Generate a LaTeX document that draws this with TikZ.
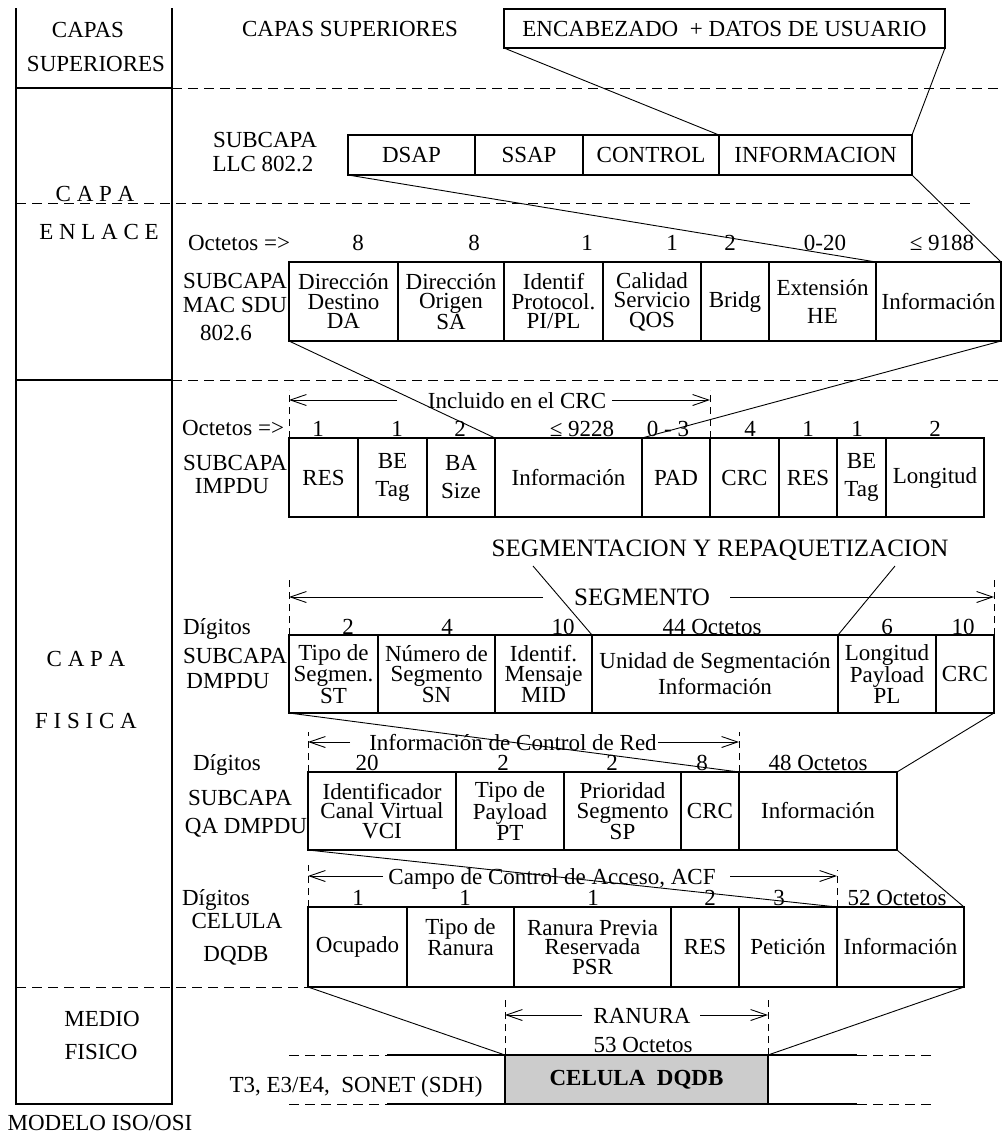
\documentclass[tikz,border=0pt]{standalone}
\usepackage{fontspec}
\setmainfont{Liberation Serif}
\usetikzlibrary{arrows.meta,positioning}

\begin{document}
\begin{tikzpicture}[
  x=1pt, y=-1pt,
  font=\fontsize{23}{28}\selectfont,
  field/.style={
    rectangle,
    draw=black,
    line width=2pt,
    outer sep=0pt,
    inner sep=1pt,
    align=center,
    minimum height=79pt
  },
  tight/.style={font=\fontsize{23}{19.5}\selectfont},
  lbl/.style={anchor=base, inner sep=0pt},
  big/.style={lbl, font=\fontsize{25}{30}\selectfont},
  link/.style={line width=0.9pt},
  guide/.style={line width=0.9pt, dash pattern=on 7pt off 5pt},
  sep/.style={line width=0.9pt, dash pattern=on 10pt off 6pt},
  wall/.style={line width=2.3pt},
  dim/.style={-{Straight Barb[length=16pt,width=11pt]}, line width=0.9pt}
]
\useasboundingbox (0,0) rectangle (1003,1133);

% ISO/OSI column
\draw[wall] (16,8) -- (16,1104) -- (172,1104) -- (172,8);
\draw[wall] (16,88) -- (172,88);
\draw[wall] (16,380) -- (172,380);
\draw[sep] (172,88) -- (1003,88);
\draw[sep] (16,203) -- (975,203);
\draw[sep] (172,380) -- (1003,380);
\node[lbl] (capas) at (88,37) {CAPAS};
\node[lbl] (superiores) at (96,71) {SUPERIORES};
\node[lbl] (capa1) at (95,201) {C A P A};
\node[lbl] (enlace) at (99,239) {E N L A C E};
\node[lbl] (capa2) at (86,666) {C A P A};
\node[lbl] (fisica) at (86,728) {F I S I C A};
\node[lbl] (medio) at (102,1026) {MEDIO};
\node[lbl] (fisico) at (101,1059) {FISICO};
\node[lbl] (modelo) at (100,1130) {MODELO ISO/OSI};

% capas superiores
\node[lbl] (capsup) at (350,36) {CAPAS SUPERIORES};
\node[field, minimum width=441pt, minimum height=39pt, anchor=north west] (encab) at (504,9) {ENCABEZADO\ \ + DATOS DE USUARIO};

% LLC
\node[lbl] (llcsub) at (265,147) {SUBCAPA};
\node[lbl] (llcname) at (263,171) {LLC 802.2};
\node[field, minimum width=127pt, minimum height=40pt, anchor=north west] (llc1) at (348,135) {DSAP};
\node[field, minimum width=108pt, minimum height=40pt, right=0pt of llc1] (llc2) {SSAP};
\node[field, minimum width=136pt, minimum height=40pt, right=0pt of llc2] (llc3) {CONTROL};
\node[field, minimum width=193pt, minimum height=40pt, right=0pt of llc3] (llc4) {INFORMACION};
\draw[link] (encab.south west) -- (llc4.north west);
\draw[link] (encab.south east) -- (llc4.north east);

% MAC
\node[lbl] (macoct) at (239,250) {Octetos =>};
\node[lbl] (macsub) at (235,288) {SUBCAPA};
\node[lbl] (macname) at (235,312) {MAC SDU};
\node[lbl] (macstd) at (226,340) {802.6};
\node[field, tight, minimum width=109pt, anchor=north west] (mac1) at (289,262) {Dirección\\Destino\\DA};
\node[field, tight, minimum width=106pt, right=0pt of mac1] (mac2) {Dirección\\Origen\\SA};
\node[field, tight, minimum width=99pt, right=0pt of mac2] (mac3) {Identif\\Protocol.\\PI/PL};
\node[field, tight, minimum width=98pt, right=0pt of mac3] (mac4) {Calidad\\Servicio\\QOS};
\node[field, minimum width=68pt, right=0pt of mac4] (mac5) {Bridg};
\node[field, minimum width=107pt, right=0pt of mac5] (mac6) {Extensión\\HE};
\node[field, minimum width=125pt, right=0pt of mac6] (mac7) {Información};
\node[lbl] (macn1) at (358,250) {8};
\node[lbl] (macn2) at (474,250) {8};
\node[lbl] (macn3) at (587,250) {1};
\node[lbl] (macn4) at (672,250) {1};
\node[lbl] (macn5) at (730,250) {2};
\node[lbl] (macn6) at (825,250) {0-20};
\node[lbl] (macn7) at (942,250) {≤ 9188};
\draw[link] (llc1.south west) -- (mac7.north west);
\draw[link] (llc4.south east) -- (mac7.north east);

% IMPDU
\node[lbl] (impoct) at (233,435) {Octetos =>};
\node[lbl] (impsub) at (235,470) {SUBCAPA};
\node[lbl] (impname) at (232,493) {IMPDU};
\node[field, minimum width=69pt, anchor=north west] (imp1) at (289,438) {RES};
\node[field, minimum width=69pt, right=0pt of imp1] (imp2) {BE\\Tag};
\node[field, minimum width=68pt, right=0pt of imp2] (imp3) {BA\\Size};
\node[field, minimum width=147pt, right=0pt of imp3] (imp4) {Información};
\node[field, minimum width=68pt, right=0pt of imp4] (imp5) {PAD};
\node[field, minimum width=69pt, right=0pt of imp5] (imp6) {CRC};
\node[field, minimum width=58pt, right=0pt of imp6] (imp7) {RES};
\node[field, minimum width=49pt, right=0pt of imp7] (imp8) {BE\\Tag};
\node[field, minimum width=98pt, right=0pt of imp8] (imp9) {Longitud};
\node[lbl] (impn1) at (318,436) {1};
\node[lbl] (impn2) at (397,436) {1};
\node[lbl] (impn3) at (460,436) {2};
\node[lbl] (impn4) at (582,436) {≤ 9228};
\node[lbl] (impn5) at (668,436) {0 - 3};
\node[lbl] (impn6) at (750,436) {4};
\node[lbl] (impn7) at (808,436) {1};
\node[lbl] (impn8) at (857,436) {1};
\node[lbl] (impn9) at (935,436) {2};
\node[lbl] (incl) at (517,408) {Incluido en el CRC};
\coordinate (inclL) at (397,400);
\coordinate (inclR) at (612,400);
\draw[guide] (imp1.north west) -- ++(0,-48);
\draw[guide] (imp6.north west) -- ++(0,-48);
\draw[dim] (inclL) -- (inclL -| imp1.west);
\draw[dim] (inclR) -- (inclR -| imp6.west);
\draw[link] (mac1.south west) -- (imp4.north west);
\draw[link] (mac7.south east) -- (imp5.north west);

% DMPDU
\node[big] (segrep) at (720,556) {SEGMENTACION Y REPAQUETIZACION};
\coordinate (segrepL) at (533,566);
\coordinate (segrepR) at (895,566);
\node[lbl] (dmdig) at (217,634) {Dígitos};
\node[lbl] (dmsub) at (235,663) {SUBCAPA};
\node[lbl] (dmname) at (228,688) {DMPDU};
\node[field, tight, minimum width=89pt, minimum height=78pt, anchor=north west] (dm1) at (289,635) {Tipo de\\Segmen.\\ST};
\node[field, tight, minimum width=117pt, minimum height=78pt, right=0pt of dm1] (dm2) {Número de\\Segmento\\SN};
\node[field, tight, minimum width=97pt, minimum height=78pt, right=0pt of dm2] (dm3) {Identif.\\Mensaje\\MID};
\node[field, font=\fontsize{23}{26}\selectfont, minimum width=246pt, minimum height=78pt, right=0pt of dm3] (dm4) {Unidad de Segmentación\\Información};
\node[field, tight, minimum width=98pt, minimum height=78pt, right=0pt of dm4] (dm5) {Longitud\\Payload\\PL};
\node[field, minimum width=58pt, minimum height=78pt, right=0pt of dm5] (dm6) {CRC};
\node[lbl] (dmn1) at (348,634) {2};
\node[lbl] (dmn2) at (447,634) {4};
\node[lbl] (dmn3) at (563,634) {10};
\node[lbl] (dmn4) at (712,634) {44 Octetos};
\node[lbl] (dmn5) at (887,634) {6};
\node[lbl] (dmn6) at (963,634) {10};
\node[big] (segto) at (642,605) {SEGMENTO};
\coordinate (segtoL) at (543,597);
\coordinate (segtoR) at (730,597);
\draw[guide] (dm1.north west) -- ++(0,-58);
\draw[guide] (dm6.north east) -- ++(0,-58);
\draw[dim] (segtoL) -- (segtoL -| dm1.west);
\draw[dim] (segtoR) -- (segtoR -| dm6.east);
\draw[link] (segrepL) -- (dm4.north west);
\draw[link] (segrepR) -- (dm5.north west);

% QA DMPDU
\node[lbl] (qadig) at (227,770) {Dígitos};
\node[lbl] (qasub) at (240,805) {SUBCAPA};
\node[lbl] (qaname) at (246,833) {QA DMPDU};
\node[field, tight, minimum width=148pt, minimum height=78pt, anchor=north west] (qa1) at (308,772) {Identificador\\Canal Virtual\\VCI};
\node[field, tight, minimum width=108pt, minimum height=78pt, right=0pt of qa1] (qa2) {Tipo de\\Payload\\PT};
\node[field, tight, minimum width=117pt, minimum height=78pt, right=0pt of qa2] (qa3) {Prioridad\\Segmento\\SP};
\node[field, minimum width=58pt, minimum height=78pt, right=0pt of qa3] (qa4) {CRC};
\node[field, minimum width=158pt, minimum height=78pt, right=0pt of qa4] (qa5) {Información};
\node[lbl] (qan1) at (367,770) {20};
\node[lbl] (qan2) at (503,770) {2};
\node[lbl] (qan3) at (612,770) {2};
\node[lbl] (qan4) at (702,770) {8};
\node[lbl] (qan5) at (818,770) {48 Octetos};
\node[lbl] (icr) at (513,750) {Información de Control de Red};
\coordinate (icrL) at (350,742);
\coordinate (icrR) at (658,742);
\draw[guide] (qa1.north west) -- ++(0,-40);
\draw[guide] (qa5.north west) -- ++(0,-40);
\draw[dim] (icrL) -- (icrL -| qa1.west);
\draw[dim] (icrR) -- (icrR -| qa5.west);
\draw[link] (dm1.south west) -- (qa5.north west);
\draw[link] (dm6.south east) -- (qa5.north east);

% celula DQDB
\node[lbl] (cedig) at (216,905) {Dígitos};
\node[lbl] (cesub) at (237,928) {CELULA};
\node[lbl] (cename) at (236,961) {DQDB};
\node[field, minimum width=99pt, minimum height=80pt, anchor=north west] (ce1) at (308,907) {Ocupado};
\node[field, tight, minimum width=107pt, minimum height=80pt, right=0pt of ce1] (ce2) {Tipo de\\Ranura\\\phantom{PSR}};
\node[field, tight, minimum width=157pt, minimum height=80pt, right=0pt of ce2] (ce3) {Ranura Previa\\Reservada\\PSR};
\node[field, minimum width=68pt, minimum height=80pt, right=0pt of ce3] (ce4) {RES};
\node[field, minimum width=98pt, minimum height=80pt, right=0pt of ce4] (ce5) {Petición};
\node[field, minimum width=127pt, minimum height=80pt, right=0pt of ce5] (ce6) {Información};
\node[lbl] (cen1) at (358,905) {1};
\node[lbl] (cen2) at (465,905) {1};
\node[lbl] (cen3) at (593,905) {1};
\node[lbl] (cen4) at (710,905) {2};
\node[lbl] (cen5) at (779,905) {3};
\node[lbl] (cen6) at (897,905) {52 Octetos};
\node[lbl] (acf) at (552,884) {Campo de Control de Acceso, ACF};
\coordinate (acfL) at (383,876);
\coordinate (acfR) at (730,876);
\draw[guide] (ce1.north west) -- ++(0,-42);
\draw[guide] (ce6.north west) -- ++(0,-37);
\draw[dim] (acfL) -- (acfL -| ce1.west);
\draw[dim] (acfR) -- (acfR -| ce6.west);
\draw[link] (qa1.south west) -- (ce6.north west);
\draw[link] (qa5.south east) -- (ce6.north east);
\draw[sep] (16,987) -- (ce1.south west);

% medio fisico
\draw[sep] (289,1055) -- (387,1055);
\draw[sep] (289,1104) -- (387,1104);
\draw[line width=2pt] (387,1055) -- (857,1055);
\draw[line width=2pt] (387,1104) -- (857,1104);
\draw[sep] (857,1055) -- (935,1055);
\draw[sep] (857,1104) -- (935,1104);
\node[field, fill=gray!40, font=\fontsize{23}{28}\selectfont\bfseries, minimum width=263pt, minimum height=49pt, anchor=north west] (cell) at (505,1055) {CELULA\ \ DQDB};
\node[lbl] (medios) at (356,1092) {T3, E3/E4,\ \ SONET (SDH)};
\node[lbl] (ranura) at (642,1023) {RANURA};
\node[lbl] (oct53) at (643,1052) {53 Octetos};
\coordinate (ranL) at (582,1015);
\coordinate (ranR) at (700,1015);
\draw[guide] (cell.north west) -- ++(0,-58);
\draw[guide] (cell.north east) -- ++(0,-58);
\draw[dim] (ranL) -- (ranL -| cell.west);
\draw[dim] (ranR) -- (ranR -| cell.east);
\draw[link] (ce1.south west) -- (cell.north west);
\draw[link] (ce6.south east) -- (cell.north east);
\end{tikzpicture}
\end{document}
